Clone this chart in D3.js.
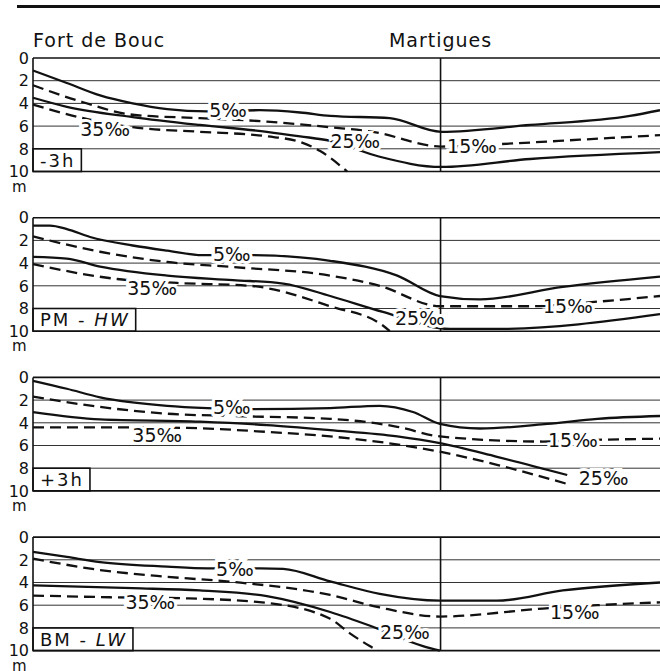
<!DOCTYPE html>
<html>
<head>
<meta charset="utf-8">
<script src="https://cdn.jsdelivr.net/npm/d3@7"></script>
<style>
  body { margin: 0; background: #fff; }
  svg text { font-family: "DejaVu Sans", sans-serif; fill: #111; }
</style>
</head>
<body>
<div id="chart"></div>
<script>
// depth axis (m) and distance along the channel (0 = Fort de Bouc, 100 = far end)
var depthTicks = [0, 2, 4, 6, 8, 10];
var stationNames = ["Fort de Bouc", "Martigues"];
var stationDist = [0, 65];

// tide states
var tideFr = ["-3h", "PM", "+3h", "BM"];
var tideEn = ["", "HW", "", "LW"];

// isohalines, salinity in per mille
var salinities = [5, 15, 25, 35];

// [distance, depth m]
// -3h
var m3_s5  = [[0,1.1],[5.4,2.2],[10.7,3.3],[15.9,4.0],[21.4,4.5],[27.8,4.7],[36.2,4.6],[42.6,4.8],[47.4,5.1],[56.9,5.3],[65.1,6.5],[79.3,5.9],[95.2,5.1],[100,4.6]];
var m3_s15 = [[0,2.4],[8.0,3.9],[15.9,5.0],[26.6,5.3],[37.3,5.6],[47.4,6.1],[54.2,6.5],[65.1,7.8],[74.0,7.6],[87.2,7.2],[100,6.8]];
var m3_s25 = [[0,3.5],[5.4,4.3],[15.9,5.2],[26.6,5.9],[37.3,6.5],[42.6,6.9],[47.4,7.3],[55.3,8.7],[65.1,9.6],[79.3,8.9],[100,8.3]];
var m3_s35 = [[0,4.1],[7.2,5.2],[15.9,6.1],[26.6,6.5],[37.3,6.9],[42.6,7.4],[45.8,8.2],[50.1,10]];
var m3_lab = [[31.1,4.6],[70.0,7.8],[51.4,7.3],[11.5,6.3]];

// PM - HW
var hw_s5  = [[0,0.7],[2.7,0.7],[5.4,1.0],[9.1,1.7],[15.9,2.45],[21.4,2.9],[27.1,3.3],[35.1,3.3],[42.6,3.5],[47.4,3.8],[58.1,5.1],[64.9,6.9],[71.3,7.2],[84.5,6.1],[100,5.2]];
var hw_s15 = [[0,1.65],[10.7,3.0],[21.4,3.9],[31.9,4.35],[47.4,5.1],[55.3,6.0],[64.9,7.8],[79.3,7.8],[90.0,7.4],[100,6.9]];
var hw_s25 = [[0,3.45],[5.4,3.6],[10.7,4.3],[21.4,5.1],[31.9,5.5],[39.9,5.8],[47.4,6.9],[55.8,8.3],[66.5,9.8],[74.0,9.8],[100,8.5]];
var hw_s35 = [[0,4.1],[13.4,5.4],[23.0,5.75],[34.6,6.0],[47.4,7.8],[55.8,9.5],[56.9,10]];
var hw_lab = [[31.7,3.2],[85.3,7.8],[61.7,8.85],[19.0,6.2]];

// +3h
var p3_s5  = [[0,0.3],[5.4,1.0],[10.7,1.75],[21.4,2.5],[27.8,2.7],[35.1,2.8],[47.4,2.7],[55.3,2.5],[60.6,3.05],[64.9,4.1],[71.3,4.5],[82.0,4.1],[90.0,3.65],[100,3.4]];
var p3_s15 = [[0,1.7],[10.7,2.6],[21.4,3.2],[31.9,3.4],[47.4,3.65],[58.1,4.35],[64.9,5.2],[81.3,5.65],[90.0,5.5],[100,5.4]];
var p3_s25 = [[0,3.05],[10.7,3.7],[26.6,3.9],[37.3,4.2],[47.4,4.65],[58.1,5.2],[64.9,5.8],[74.0,7.0],[85.2,8.6]];
var p3_s35 = [[0,4.4],[15.0,4.4],[24.6,4.45],[37.3,4.8],[47.4,5.2],[64.9,6.55],[74.0,7.7],[85.6,9.45]];
var p3_lab = [[31.7,2.6],[86.1,5.5],[91.0,8.9],[19.8,5.1]];

// BM - LW
var lw_s5  = [[0,1.3],[5.4,1.75],[10.7,2.2],[21.4,2.6],[27.8,2.75],[36.2,2.75],[39.9,2.8],[47.4,3.9],[55.3,5.0],[64.9,5.6],[74.0,5.6],[84.5,4.7],[100,4.0]];
var lw_s15 = [[0,1.9],[10.7,2.9],[21.4,3.5],[31.9,3.95],[47.4,5.1],[55.3,6.2],[64.9,7.0],[81.3,6.3],[90.0,6.0],[100,5.75]];
var lw_s25 = [[0,4.25],[15.9,4.5],[26.6,4.7],[37.3,5.2],[47.4,6.6],[54.2,7.9],[62.2,9.6],[64.9,10]];
var lw_s35 = [[0,5.15],[12.3,5.3],[24.6,5.4],[37.3,5.8],[47.4,7.2],[50.6,8.5],[53.7,9.6],[55.0,10]];
var lw_lab = [[32.2,2.8],[86.4,6.6],[59.3,8.4],[18.7,5.7]];

var panelLines = [
  [m3_s5, m3_s15, m3_s25, m3_s35],
  [hw_s5, hw_s15, hw_s25, hw_s35],
  [p3_s5, p3_s15, p3_s25, p3_s35],
  [lw_s5, lw_s15, lw_s25, lw_s35]
];
var panelLabels = [m3_lab, hw_lab, p3_lab, lw_lab];

var width = 660, height = 671;
var left = 33, right = 660;
var firstTop = 58, panelStep = 159.7, panelH = 113.5;

var svg = d3.select("#chart").append("svg")
  .attr("width", width)
  .attr("height", height);

var x = d3.scaleLinear().domain([0, 100]).range([left, right]);

// heavy rule at the top
svg.append("line")
  .attr("x1", 17).attr("x2", 660)
  .attr("y1", 6.5).attr("y2", 6.5)
  .attr("stroke", "#111").attr("stroke-width", 3);

// station names
svg.selectAll(".station")
  .data(stationNames)
  .enter()
  .append("text")
  .attr("class", "station")
  .attr("x", function(d, i) { return x(stationDist[i]); })
  .attr("y", 47)
  .attr("text-anchor", function(d, i) { return i == 0 ? "start" : "middle"; })
  .style("font-size", "19px")
  .style("letter-spacing", "1px")
  .text(function(d) { return d; });

tideFr.forEach(function(name, p) {
  var top = firstTop + p * panelStep;
  var y = d3.scaleLinear().domain([0, 10]).range([top, top + panelH]);
  var g = svg.append("g").attr("class", "panel");

  // grid lines at 2..8 m
  g.selectAll(".grid")
    .data(depthTicks.slice(1, -1))
    .enter()
    .append("line")
    .attr("x1", left).attr("x2", right)
    .attr("y1", function(d) { return y(d); })
    .attr("y2", function(d) { return y(d); })
    .attr("stroke", "#333").attr("stroke-width", 1);

  // frame
  [0, 10].forEach(function(d) {
    g.append("line")
      .attr("x1", left).attr("x2", right)
      .attr("y1", y(d)).attr("y2", y(d))
      .attr("stroke", "#111").attr("stroke-width", 1.6);
  });
  g.append("line")
    .attr("x1", left).attr("x2", left)
    .attr("y1", y(0)).attr("y2", y(10))
    .attr("stroke", "#111").attr("stroke-width", 1.6);
  g.append("line")
    .attr("x1", x(stationDist[1])).attr("x2", x(stationDist[1]))
    .attr("y1", y(0)).attr("y2", y(10))
    .attr("stroke", "#111").attr("stroke-width", 1.6);

  // depth labels
  g.selectAll(".tick")
    .data(depthTicks)
    .enter()
    .append("text")
    .attr("x", 29)
    .attr("y", function(d) { return y(d); })
    .attr("dy", "0.36em")
    .attr("text-anchor", "end")
    .style("font-size", "16px")
    .text(function(d) { return d; });
  g.append("text")
    .attr("x", 12)
    .attr("y", y(10) + 20)
    .style("font-size", "15px")
    .text("m");

  // isohalines
  var line = d3.line()
    .x(function(d) { return x(d[0]); })
    .y(function(d) { return y(d[1]); })
    .curve(d3.curveMonotoneX);

  g.selectAll(".iso")
    .data(panelLines[p])
    .enter()
    .append("path")
    .attr("d", line)
    .attr("fill", "none")
    .attr("stroke", "#111")
    .attr("stroke-width", 2.3)
    .attr("stroke-dasharray", function(d, i) { return i % 2 == 1 ? "11,6" : null; });

  // tide label box
  var bx = g.append("text")
    .attr("x", left + 7)
    .attr("y", y(9) + 6.5)
    .style("font-size", "18px")
    .style("letter-spacing", "2px");
  bx.append("tspan").text(name);
  if (tideEn[p]) {
    bx.append("tspan").text(" - ");
    bx.append("tspan").style("font-style", "italic").text(tideEn[p]);
  }
  var bw = bx.node().getComputedTextLength();
  g.append("rect")
    .attr("x", left).attr("y", y(8))
    .attr("width", bw + 13).attr("height", y(10) - y(8))
    .attr("fill", "none")
    .attr("stroke", "#111").attr("stroke-width", 1.6);

  // salinity labels with white halo breaking the lines
  g.selectAll(".sal")
    .data(salinities)
    .enter()
    .append("text")
    .attr("x", function(d, i) { return x(panelLabels[p][i][0]); })
    .attr("y", function(d, i) { return y(panelLabels[p][i][1]); })
    .attr("dy", "0.36em")
    .attr("text-anchor", "middle")
    .style("font-size", "19px")
    .style("stroke", "#fff")
    .style("stroke-width", "6px")
    .style("paint-order", "stroke")
    .text(function(d) { return d + "\u2030"; });
});
</script>
</body>
</html>
